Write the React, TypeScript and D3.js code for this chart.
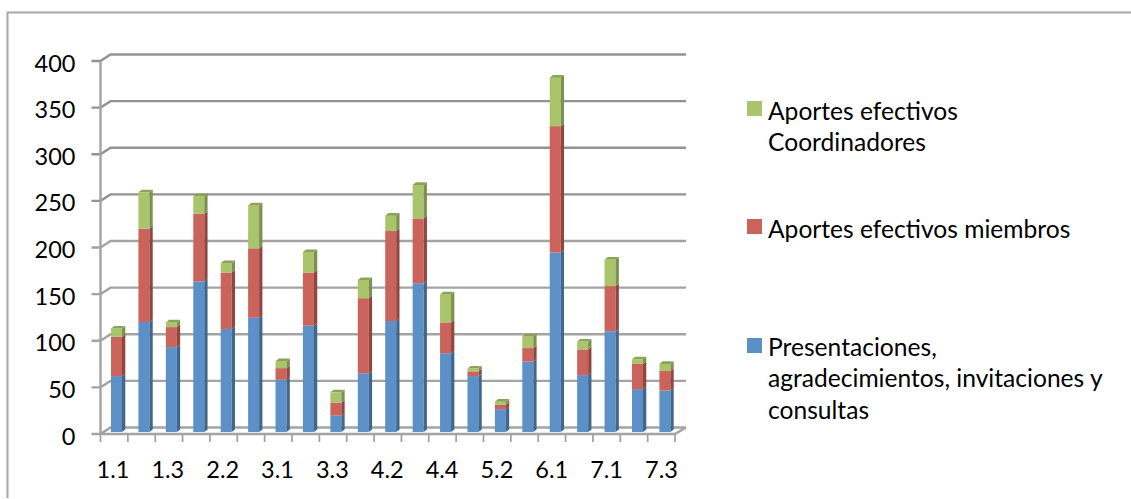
import React from "react";
import * as d3 from "d3";

const categories = ["1.1","1.2","1.3","2.1","2.2","2.3","3.1","3.2","3.3","4.1","4.2","4.3","4.4","5.1","5.2","5.3","6.1","6.2","7.1","7.2","7.3"];
const presentaciones = [60,118,91,161.5,110.5,122.5,56,114,17.5,63,119,159.5,84.5,60,24.5,75.5,192.5,61,108,46,44.5];
const miembros = [42,100,21.5,72.5,60.5,74.5,12.5,57,14,80.5,96.5,69.5,33,5,4.5,14.5,135.5,27.5,48.5,27,21];
const coordinadores = [9,39,5,19,10,46,7.5,22,11,19.5,16.5,36,30,3,3.5,12.5,52,8.5,28.5,5,7.5];
const yTicks = [0,50,100,150,200,250,300,350,400];
const xLabelled = ["1.1","1.3","2.2","3.1","3.3","4.2","4.4","5.2","6.1","7.1","7.3"];

const seriesKeys = ["presentaciones","miembros","coordinadores"];
const front: Record<string, string> = { presentaciones: "#5b90c6", miembros: "#ca645b", coordinadores: "#aac46c" };
const side: Record<string, string> = { presentaciones: "#40688f", miembros: "#8f4640", coordinadores: "#7c9150" };
const topFace: Record<string, string> = { presentaciones: "#4e7cab", miembros: "#a9534c", coordinadores: "#8aa455" };

const legendItems = [
  { key: "coordinadores", y: 101, lines: [["Aportes efectivos", 119.5], ["Coordinadores", 151.3]] },
  { key: "miembros", y: 219, lines: [["Aportes efectivos miembros", 237.5]] },
  { key: "presentaciones", y: 338, lines: [["Presentaciones,", 355.5], ["agradecimientos, invitaciones y", 387], ["consultas", 419]] },
];

const FONT = "Lato, 'Open Sans', sans-serif";
const W = 1131, H = 499;
const x0 = 100.5, x1 = 675, dx = 10, dy = 6.5;
const barW = 11, sideW = 3.3, sideH = 2.6, baseY = 432;

const axisY = d3.scaleLinear().domain([0, 400]).range([434, 61]);
const barY = d3.scaleLinear().domain([0, 400]).range([baseY, baseY - 373]);
const tickX = d3.scaleLinear().domain([0, categories.length]).range([x0, x1]);
const band = d3.scaleBand<string>().domain(categories).range([102.8, 102.8 + 27.42 * categories.length]);

const rows = categories.map((c, i) => ({
  c,
  presentaciones: presentaciones[i],
  miembros: miembros[i],
  coordinadores: coordinadores[i],
}));
const stacked = d3.stack<any>().keys(seriesKeys)(rows);
const poly = d3.line();

export default function App() {
  const grey = "#a3a3a3";
  return (
    <svg width={W} height={H} viewBox={`0 0 ${W} ${H}`} style={{ position: "absolute", left: 0, top: 0, display: "block", background: "#fff" }}>
      <defs>
        <filter id="soft" x="-2%" y="-2%" width="104%" height="104%">
          <feGaussianBlur stdDeviation="0.4" />
        </filter>
      </defs>
      <g filter="url(#soft)">
        <path d="M7.5,498V12.5H1131" fill="none" stroke="#a6a6a6" strokeWidth={2} />
        {yTicks.map((t) => (
          <g key={t} fill="none" stroke={t >= 250 ? "#929292" : grey} strokeWidth={2.4}>
            <path d={poly([[x0 - 9, axisY(t)], [x0, axisY(t)], [x0 + dx, axisY(t) - dy], [x1 + dx + 1, axisY(t) - dy]]) as string} />
          </g>
        ))}
        <line x1={x0} x2={x0} y1={axisY(400)} y2={axisY(0)} stroke={grey} strokeWidth={2.4} />
        <path d={poly([[x0, axisY(0)], [x1, axisY(0)], [x1 + dx + 1, axisY(0) - dy]]) as string} fill="none" stroke={grey} strokeWidth={2.4} />
        {d3.range(categories.length + 1).map((i) => (
          <line key={i} x1={tickX(i)} x2={tickX(i)} y1={axisY(0)} y2={axisY(0) + 8} stroke={grey} strokeWidth={1.8} />
        ))}
        {stacked.map((s) =>
          s.map((d: any, i: number) => {
            const left = (band(categories[i]) as number) + band.bandwidth() / 2 - barW / 2;
            const right = left + barW;
            const yTop = barY(d[1]);
            const yBot = barY(d[0]);
            const isTop = s.key === "coordinadores";
            return (
              <g key={s.key + i}>
                <rect x={left} y={yTop} width={barW} height={yBot - yTop} fill={front[s.key]} />
                <path d={(poly([[right, yBot], [right + sideW, yBot - sideH], [right + sideW, yTop - sideH], [right, yTop]]) as string) + "Z"} fill={side[s.key]} />
                {isTop && (
                  <path d={(poly([[left, yTop], [left + sideW, yTop - sideH], [right + sideW, yTop - sideH], [right, yTop]]) as string) + "Z"} fill={topFace[s.key]} />
                )}
              </g>
            );
          })
        )}
      </g>
      <g fontFamily={FONT} fill="#000">
        <g fontSize={23.5}>
          {yTicks.map((t) => (
            <text key={t} x={75.5} y={axisY(t) + 10.5} textAnchor="end">{t}</text>
          ))}
          {xLabelled.map((l) => (
            <text key={l} x={(band(l) as number) + band.bandwidth() / 2 - 3.5} y={477.5} textAnchor="middle">{l}</text>
          ))}
        </g>
        <g fontSize={24.6}>
          {legendItems.map((it) => (
            <g key={it.key}>
              <rect x={747} y={it.y} width={15} height={15} fill={front[it.key]} />
              {it.lines.map(([txt, y]) => (
                <text key={txt as string} x={768} y={y as number}>{txt}</text>
              ))}
            </g>
          ))}
        </g>
      </g>
    </svg>
  );
}
